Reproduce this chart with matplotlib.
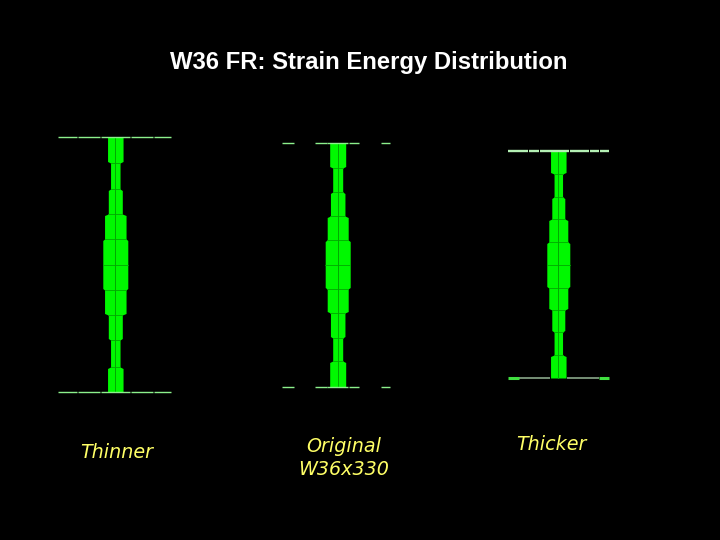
import matplotlib
matplotlib.use("Agg")
import matplotlib.pyplot as plt

GREEN = "#00f800"
DIVIDER = "#00a800"
PALE = "#8cf08c"
YELLOW = "#ffff66"

# segment boundaries along each column (top to bottom) and bar widths
thinner_edges = [137, 163, 189, 214, 239, 265, 290, 315, 340, 367, 392]
thinner_widths = [15.5, 9.5, 14, 21.5, 25, 25, 21.5, 14, 9.5, 15.5]
original_edges = [143, 168, 192, 216, 240, 265, 289, 313, 338, 361, 387]
original_widths = [16, 10, 14.5, 21, 25, 25, 21, 14.5, 10, 16]
thicker_edges = [151, 174, 197, 219, 242, 265, 288, 310, 332, 355, 378]
thicker_widths = [15.5, 8.5, 13, 19, 23, 23, 19, 13, 8.5, 15.5]

# flange pieces, as offsets from the column centre
thinner_flange = [(-57, -38), (-37, -15), (-14, 15), (16, 38), (39, 56)]
original_flange = [(-56, -44), (-23, -11), (-10.5, 10.5), (11, 21), (43, 52)]
thicker_top_flange = [(-50, -30), (-29, -19), (-18, 11), (12, 31), (32, 41), (42, 51)]
thicker_bot_ends = [(-50, -39.5), (41, 51)]
thicker_bot_flange = [(-39, -8), (9, 41)]

labels = ["Thinner", "Original\nW36x330", "Thicker"]


def draw_column(ax, center, edges, widths, taper=1.5):
    # outline of the column, wide segments narrow a little into their neighbours
    ys = []
    halves = []
    for i, w in enumerate(widths):
        top, bottom = edges[i], edges[i + 1]
        if i > 0 and widths[i - 1] < w:
            ys += [top, top + taper]
            halves += [widths[i - 1] / 2, w / 2]
        else:
            ys.append(top)
            halves.append(w / 2)
        if i < len(widths) - 1 and widths[i + 1] < w:
            ys += [bottom - taper, bottom]
            halves += [w / 2, widths[i + 1] / 2]
        else:
            ys.append(bottom)
            halves.append(w / 2)
    ax.fill_betweenx(ys, [center - h for h in halves], [center + h for h in halves],
                     color=GREEN, linewidth=0)
    # thin dark line where two segments meet, plus the column centre line
    for y, w1, w2 in zip(edges[1:-1], widths[:-1], widths[1:]):
        half = min(w1, w2) / 2
        ax.plot([center - half, center + half], [y, y], color=DIVIDER, lw=0.6)
    ax.plot([center, center], [edges[0], edges[-1]], color=DIVIDER, lw=0.7)


def draw_flange(ax, center, y, pieces, color=PALE, lw=1.0):
    for start, end in pieces:
        ax.plot([center + start, center + end], [y, y], color=color, lw=lw, solid_capstyle="butt")


fig = plt.figure(figsize=(7.2, 5.4), dpi=100, facecolor="black")
ax = fig.add_axes([0, 0, 1, 1])
ax.set_facecolor("black")
ax.set_xlim(0, 720)
ax.set_ylim(540, 0)
ax.axis("off")

# Thinner
draw_column(ax, 115.3, thinner_edges, thinner_widths)
draw_flange(ax, 115.3, thinner_edges[0], thinner_flange)
draw_flange(ax, 115.3, thinner_edges[-1], thinner_flange)

# Original
draw_column(ax, 337.7, original_edges, original_widths)
draw_flange(ax, 337.7, original_edges[0], original_flange)
draw_flange(ax, 337.7, original_edges[-1], original_flange)

# Thicker
draw_column(ax, 558.3, thicker_edges, thicker_widths)
draw_flange(ax, 558.3, thicker_edges[0], thicker_top_flange, color="#b4f0b4", lw=1.7)
draw_flange(ax, 558.3, thicker_edges[-1], thicker_bot_flange, color="#8aa88a", lw=1.2)
draw_flange(ax, 558.3, thicker_edges[-1], thicker_bot_ends, color="#40e040", lw=2.2)

ax.text(369, 62, "W36 FR: Strain Energy Distribution", color="white", fontsize=17.2,
        fontweight="bold", family="Liberation Sans", ha="center", va="center")

for x, y, label in zip([116.5, 343.5, 551.5], [452, 458, 445], labels):
    ax.text(x, y, label, color=YELLOW, fontsize=13.8, style="oblique", family="DejaVu Sans",
            ha="center", va="center", linespacing=1.25)

fig.savefig("out.png", dpi=100, facecolor="black")
